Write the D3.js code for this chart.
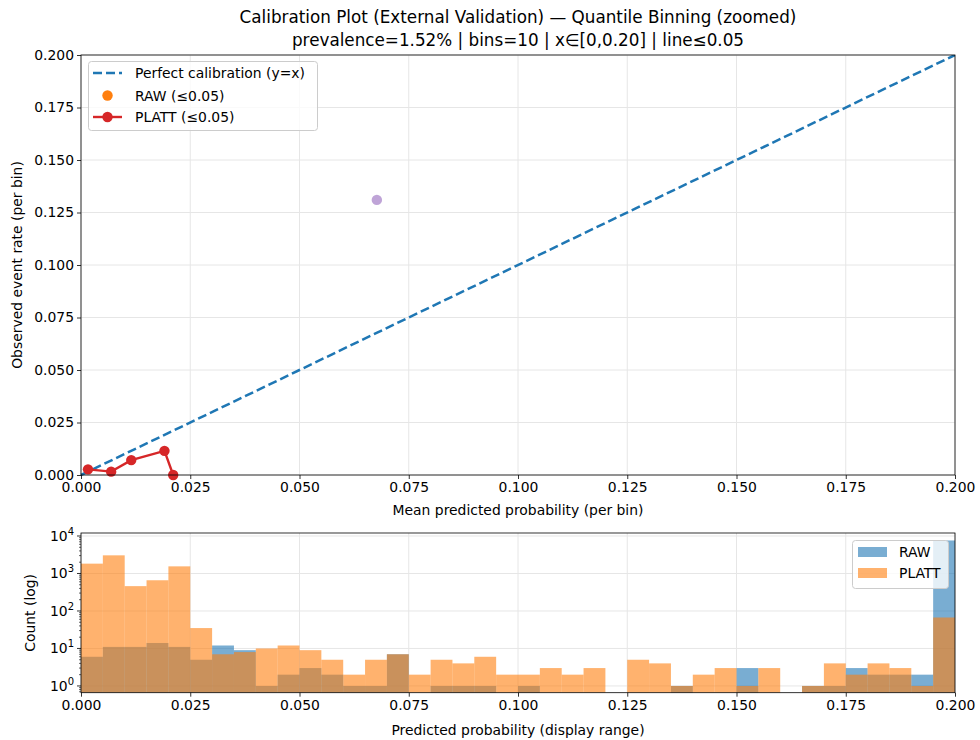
<!DOCTYPE html>
<html><head><meta charset="utf-8">
<script src="https://cdn.jsdelivr.net/npm/d3@7"></script>
<style>
body{margin:0;background:#fff;}
svg{font-family:"DejaVu Sans",sans-serif;}
</style></head>
<body><svg id="c" width="980" height="740"></svg>
<script>
// ---- data ----
const titleLines = ["Calibration Plot (External Validation) — Quantile Binning (zoomed)",
                    "prevalence=1.52% | bins=10 | x∈[0,0.20] | line≤0.05"];
const xTicks = [0, 0.025, 0.05, 0.075, 0.1, 0.125, 0.15, 0.175, 0.2];
const yTicks = [0, 0.025, 0.05, 0.075, 0.1, 0.125, 0.15, 0.175, 0.2];
const plattX = [0.0016, 0.0069, 0.0115, 0.0191, 0.0211];
const plattY = [0.0027, 0.0016, 0.0071, 0.0115, 0.0];
const extraX = [0.0677];
const extraY = [0.131];
const histBinStart = 0, histBinWidth = 0.005;
const rawCounts = [6,11,11,14,11,5,12,9,1,2, 3,2,1,1,7,0,1,1,1,0, 1,0,0,0,0,0,0,1,0,0, 3,0,0,1,1,3,2,2,2,7600];
const plattCounts = [1830,3050,460,660,1550,35,7,8,10,12, 9,5,2,5,7,2,5,4,6,2, 2,3,2,3,0,5,4,1,2,3, 1,3,0,1,4,2,4,3,1,67];
const logTicks = [1, 10, 100, 1000, 10000];

// ---- layout ----
const svg = d3.select("#c");
const L = 81, R = 955;
const T1 = 55, B1 = 475;
const T2 = 533, B2 = 692.7;
const fs = 13.9;
const gridCol = "#e6e6e6";

const x = d3.scaleLinear().domain([0, 0.2]).range([L, R]);
const y = d3.scaleLinear().domain([0, 0.2]).range([B1, T1]);
const yl = d3.scaleLog().domain([Math.pow(10,-0.18), Math.pow(10,4.08)]).range([B2, T2]);

// titles
svg.selectAll("text.title").data(titleLines).join("text")
  .attr("x", (L+R)/2).attr("y", (d,i)=>23+i*23).attr("text-anchor","middle")
  .attr("font-size", 16.8).attr("fill","#000").text(d=>d);

// ---- main plot ----
const g1 = svg.append("g");
g1.append("g").selectAll("line").data(xTicks).join("line")
  .attr("x1",d=>x(d)).attr("x2",d=>x(d)).attr("y1",T1).attr("y2",B1).attr("stroke",gridCol).attr("stroke-width",1);
g1.append("g").selectAll("line").data(yTicks).join("line")
  .attr("y1",d=>y(d)).attr("y2",d=>y(d)).attr("x1",L).attr("x2",R).attr("stroke",gridCol).attr("stroke-width",1);

const clip1 = svg.append("clipPath").attr("id","clip1");
clip1.append("rect").attr("x",L-6).attr("y",T1).attr("width",R-L+6).attr("height",B1-T1+6);

const pg = g1.append("g").attr("clip-path","url(#clip1)");
pg.append("line").attr("x1",x(0)).attr("y1",y(0)).attr("x2",x(0.2)).attr("y2",y(0.2))
  .attr("stroke","#1f77b4").attr("stroke-width",2.5).attr("stroke-dasharray","9,4");
const pts = plattX.map((v,i)=>[v, plattY[i]]);
pg.append("path").attr("d", d3.line().x(d=>x(d[0])).y(d=>y(d[1]))(pts))
  .attr("fill","none").attr("stroke","#d62728").attr("stroke-width",2.4);
pg.selectAll("circle.p").data(pts).join("circle").attr("class","p")
  .attr("cx",d=>x(d[0])).attr("cy",d=>y(d[1])).attr("r",5.2).attr("fill","#d62728");
pg.selectAll("circle.e").data(extraX.map((v,i)=>[v,extraY[i]])).join("circle").attr("class","e")
  .attr("cx",d=>x(d[0])).attr("cy",d=>y(d[1])).attr("r",5.2).attr("fill","#9467bd").attr("opacity",0.6);

// axes main
const ax1 = g1.append("g").attr("transform",`translate(0,${B1})`)
  .call(d3.axisBottom(x).tickValues(xTicks).tickFormat(d3.format(".3f")).tickSize(4).tickPadding(3));
const ay1 = g1.append("g").attr("transform",`translate(${L},0)`)
  .call(d3.axisLeft(y).tickValues(yTicks).tickFormat(d3.format(".3f")).tickSize(4).tickPadding(3));
[ax1, ay1].forEach(a=>{a.select(".domain").remove(); a.selectAll("text").attr("font-size",fs).attr("fill","#000").attr("font-family","DejaVu Sans");
  a.selectAll("line").attr("stroke","#000").attr("stroke-width",0.8);});
g1.append("rect").attr("x",L).attr("y",T1).attr("width",R-L).attr("height",B1-T1)
  .attr("fill","none").attr("stroke","#000").attr("stroke-width",0.8);

svg.append("text").attr("x",(L+R)/2).attr("y",515).attr("text-anchor","middle").attr("font-size",fs).text("Mean predicted probability (per bin)");
svg.append("text").attr("transform",`translate(22,${(T1+B1)/2}) rotate(-90)`).attr("text-anchor","middle").attr("font-size",fs).text("Observed event rate (per bin)");

// legend main
const lg = svg.append("g");
lg.append("rect").attr("x",88.5).attr("y",61.5).attr("width",229).attr("height",69).attr("rx",3)
  .attr("fill","#fff").attr("fill-opacity",0.8).attr("stroke","#ccc");
lg.append("line").attr("x1",93).attr("x2",122).attr("y1",73).attr("y2",73).attr("stroke","#1f77b4").attr("stroke-width",2.5).attr("stroke-dasharray","9,4");
lg.append("circle").attr("cx",107.5).attr("cy",95.5).attr("r",5.2).attr("fill","#ff7f0e");
lg.append("line").attr("x1",93).attr("x2",122).attr("y1",117).attr("y2",117).attr("stroke","#d62728").attr("stroke-width",2.4);
lg.append("circle").attr("cx",107.5).attr("cy",117).attr("r",5.2).attr("fill","#d62728");
const lgText = ["Perfect calibration (y=x)", "RAW (≤0.05)", "PLATT (≤0.05)"];
lg.selectAll("text").data(lgText).join("text").attr("x",135).attr("y",(d,i)=>[73,95.5,117][i]+5)
  .attr("font-size",fs).text(d=>d);

// ---- histogram ----
const g2 = svg.append("g");
g2.append("g").selectAll("line").data(xTicks).join("line")
  .attr("x1",d=>x(d)).attr("x2",d=>x(d)).attr("y1",T2).attr("y2",B2).attr("stroke",gridCol);
g2.append("g").selectAll("line").data(logTicks).join("line")
  .attr("y1",d=>yl(d)).attr("y2",d=>yl(d)).attr("x1",L).attr("x2",R).attr("stroke",gridCol);

const clip2 = svg.append("clipPath").attr("id","clip2");
clip2.append("rect").attr("x",L).attr("y",T2).attr("width",R-L).attr("height",B2-T2);
const hg = g2.append("g").attr("clip-path","url(#clip2)");
function bars(counts, color){
  hg.append("g").selectAll("rect").data(counts.map((c,i)=>({c,i})).filter(d=>d.c>0)).join("rect")
    .attr("x",d=>x(histBinStart+d.i*histBinWidth))
    .attr("width",d=>x(histBinStart+(d.i+1)*histBinWidth)-x(histBinStart+d.i*histBinWidth))
    .attr("y",d=>yl(d.c)).attr("height",d=>B2-yl(d.c))
    .attr("fill",color).attr("fill-opacity",0.6);
}
bars(rawCounts, "#1f77b4");
bars(plattCounts, "#ff7f0e");

const ax2 = g2.append("g").attr("transform",`translate(0,${B2})`)
  .call(d3.axisBottom(x).tickValues(xTicks).tickFormat(d3.format(".3f")).tickSize(4).tickPadding(3));
ax2.select(".domain").remove();
ax2.selectAll("text").attr("font-size",fs).attr("fill","#000").attr("font-family","DejaVu Sans");
ax2.selectAll("line").attr("stroke","#000").attr("stroke-width",0.8);

// log y axis
const minor = [];
for (let k=-1;k<=4;k++) for (let m=2;m<=9;m++){const v=m*Math.pow(10,k); if(v>=yl.domain()[0]&&v<=yl.domain()[1]) minor.push(v);}
g2.append("g").selectAll("line").data(minor).join("line")
  .attr("x1",L-2).attr("x2",L).attr("y1",d=>yl(d)).attr("y2",d=>yl(d)).attr("stroke","#000").attr("stroke-width",0.6);
g2.append("g").selectAll("line").data(logTicks).join("line")
  .attr("x1",L-4).attr("x2",L).attr("y1",d=>yl(d)).attr("y2",d=>yl(d)).attr("stroke","#000").attr("stroke-width",0.8);
const lt = g2.append("g").selectAll("text").data(logTicks).join("text")
  .attr("x",L-7).attr("y",d=>yl(d)+5).attr("text-anchor","end").attr("font-size",fs);
lt.append("tspan").text("10");
lt.append("tspan").attr("dy",-6).attr("font-size",10).text(d=>Math.round(Math.log10(d)));

g2.append("rect").attr("x",L).attr("y",T2).attr("width",R-L).attr("height",B2-T2)
  .attr("fill","none").attr("stroke","#000").attr("stroke-width",0.8);

svg.append("text").attr("x",(L+R)/2).attr("y",735).attr("text-anchor","middle").attr("font-size",fs).text("Predicted probability (display range)");
svg.append("text").attr("transform",`translate(35,${(T2+B2)/2}) rotate(-90)`).attr("text-anchor","middle").attr("font-size",fs).text("Count (log)");

// hist legend
const hl = svg.append("g");
hl.append("rect").attr("x",852.5).attr("y",540.5).attr("width",96).attr("height",48).attr("rx",3)
  .attr("fill","#fff").attr("fill-opacity",0.8).attr("stroke","#ccc");
const hlItems = [["RAW","#1f77b4"],["PLATT","#ff7f0e"]];
hl.selectAll("rect.sw").data(hlItems).join("rect").attr("class","sw")
  .attr("x",858).attr("y",(d,i)=>547+i*21).attr("width",29).attr("height",10)
  .attr("fill",d=>d[1]).attr("fill-opacity",0.6);
hl.selectAll("text").data(hlItems).join("text").attr("x",899).attr("y",(d,i)=>557+i*21)
  .attr("font-size",fs).text(d=>d[0]);
</script></body></html>
